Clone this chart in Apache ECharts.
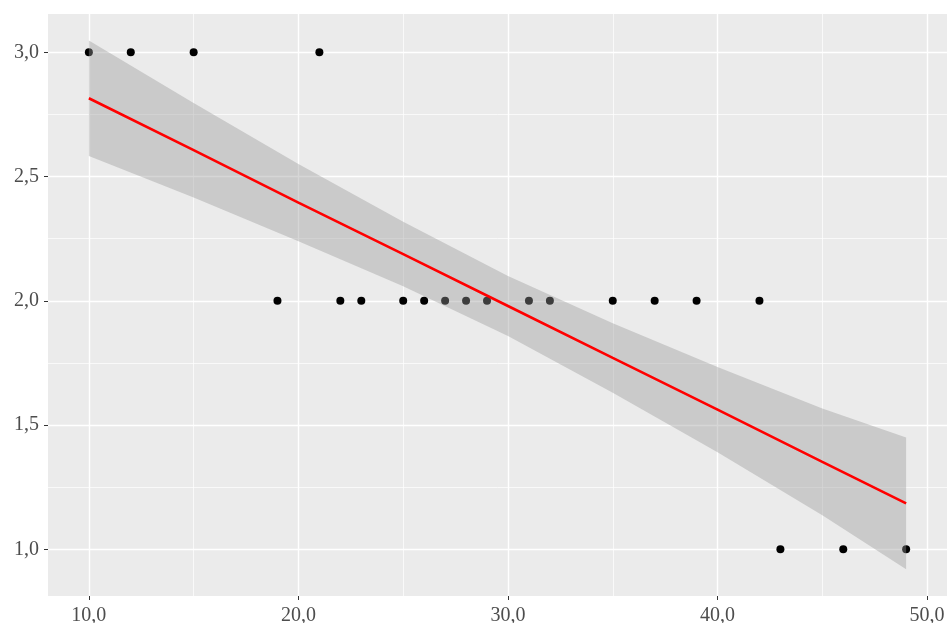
<!DOCTYPE html>
<html>
<head>
<meta charset="utf-8">
<script src="https://cdn.jsdelivr.net/npm/echarts@6/dist/echarts.min.js"></script>
<style>
  html, body { margin: 0; padding: 0; background: #fff; }
  #chart { width: 947px; height: 623px; }
</style>
</head>
<body>
<div id="chart"></div>
<script>
// 数据点
const pointX = [10, 12, 15, 21, 19, 22, 23, 25, 26, 27, 28, 29, 31, 32, 35, 37, 39, 42, 43, 46, 49]
const pointY = [3, 3, 3, 3, 2, 2, 2, 2, 2, 2, 2, 2, 2, 2, 2, 2, 2, 2, 1, 1, 1]

// 拟合线与置信带
const fitX = [10, 15, 20, 25, 30, 35, 40, 45, 49]
const fitY = [2.815, 2.606, 2.395, 2.188, 1.979, 1.770, 1.562, 1.352, 1.185]
const bandHigh = [3.047, 2.796, 2.550, 2.318, 2.100, 1.910, 1.734, 1.567, 1.450]
const bandLow = [2.583, 2.416, 2.240, 2.058, 1.858, 1.630, 1.390, 1.137, 0.920]

// 刻度
const xTicks = [10, 20, 30, 40, 50]
const yTicks = [1, 1.5, 2, 2.5, 3]
const xMinor = [15, 25, 35, 45]
const yMinor = [1.25, 1.75, 2.25, 2.75]

const myChart = echarts.init(document.getElementById('chart'))

const fmt = (v) => Number(v).toFixed(1).replace('.', ',')
const labelStyle = {
    color: '#4d4d4d',
    fontFamily: 'Liberation Serif',
    fontSize: 20
}

// 网格线（markLine 默认 z 为 5，这里压到点的下面）
function gridLines(xs, ys, width) {
    return {
        type: 'scatter',
        data: [],
        z: 1,
        silent: true,
        markLine: {
            z: 1,
            silent: true,
            symbol: ['none', 'none'],
            label: { show: false },
            animation: false,
            lineStyle: { color: '#ffffff', width: width, type: 'solid' },
            data: xs.map((v) => ({ xAxis: v })).concat(ys.map((v) => ({ yAxis: v })))
        }
    }
}

const options = {
    animation: false,
    grid: {
        left: 48,
        right: 0,
        top: 14,
        bottom: 27,
        containLabel: false,
        outerBoundsMode: 'none',
        show: true,
        backgroundColor: '#ebebeb',
        borderWidth: 0
    },
    xAxis: {
        type: 'value',
        min: 8.05,
        max: 50.95,
        splitLine: { show: false },
        axisLine: { show: false },
        axisTick: {
            show: true,
            length: 4,
            customValues: xTicks,
            lineStyle: { color: '#333333', width: 1 }
        },
        axisLabel: {
            ...labelStyle,
            margin: 10,
            customValues: xTicks,
            formatter: fmt
        }
    },
    yAxis: {
        type: 'value',
        min: 0.812,
        max: 3.154,
        splitLine: { show: false },
        axisLine: { show: false },
        axisTick: {
            show: true,
            length: 4,
            customValues: yTicks,
            lineStyle: { color: '#333333', width: 1 }
        },
        axisLabel: {
            ...labelStyle,
            margin: 9,
            customValues: yTicks,
            formatter: fmt
        }
    },
    series: [
        gridLines(xTicks, yTicks, 1.4),
        gridLines(xMinor, yMinor, 0.7),
        {
            type: 'scatter',
            z: 2,
            symbolSize: 8,
            itemStyle: { color: '#000000', opacity: 1 },
            data: pointX.map((x, i) => [x, pointY[i]])
        },
        // 置信带：一个多边形
        {
            type: 'custom',
            z: 3,
            silent: true,
            data: fitX.map((x, i) => [x, bandLow[i], bandHigh[i]]),
            encode: { x: 0, y: [1, 2] },
            renderItem: function (params, api) {
                if (params.dataIndex !== 0) return
                const upper = fitX.map((x, i) => api.coord([x, bandHigh[i]]))
                const lower = fitX.map((x, i) => api.coord([x, bandLow[i]])).reverse()
                return {
                    type: 'polygon',
                    shape: { points: upper.concat(lower) },
                    style: { fill: 'rgba(153,153,153,0.4)' }
                }
            }
        },
        {
            type: 'line',
            z: 4,
            symbol: 'none',
            lineStyle: { color: '#ff0000', width: 2.6 },
            data: fitX.map((x, i) => [x, fitY[i]])
        }
    ]
}

myChart.setOption(options)
</script>
</body>
</html>
